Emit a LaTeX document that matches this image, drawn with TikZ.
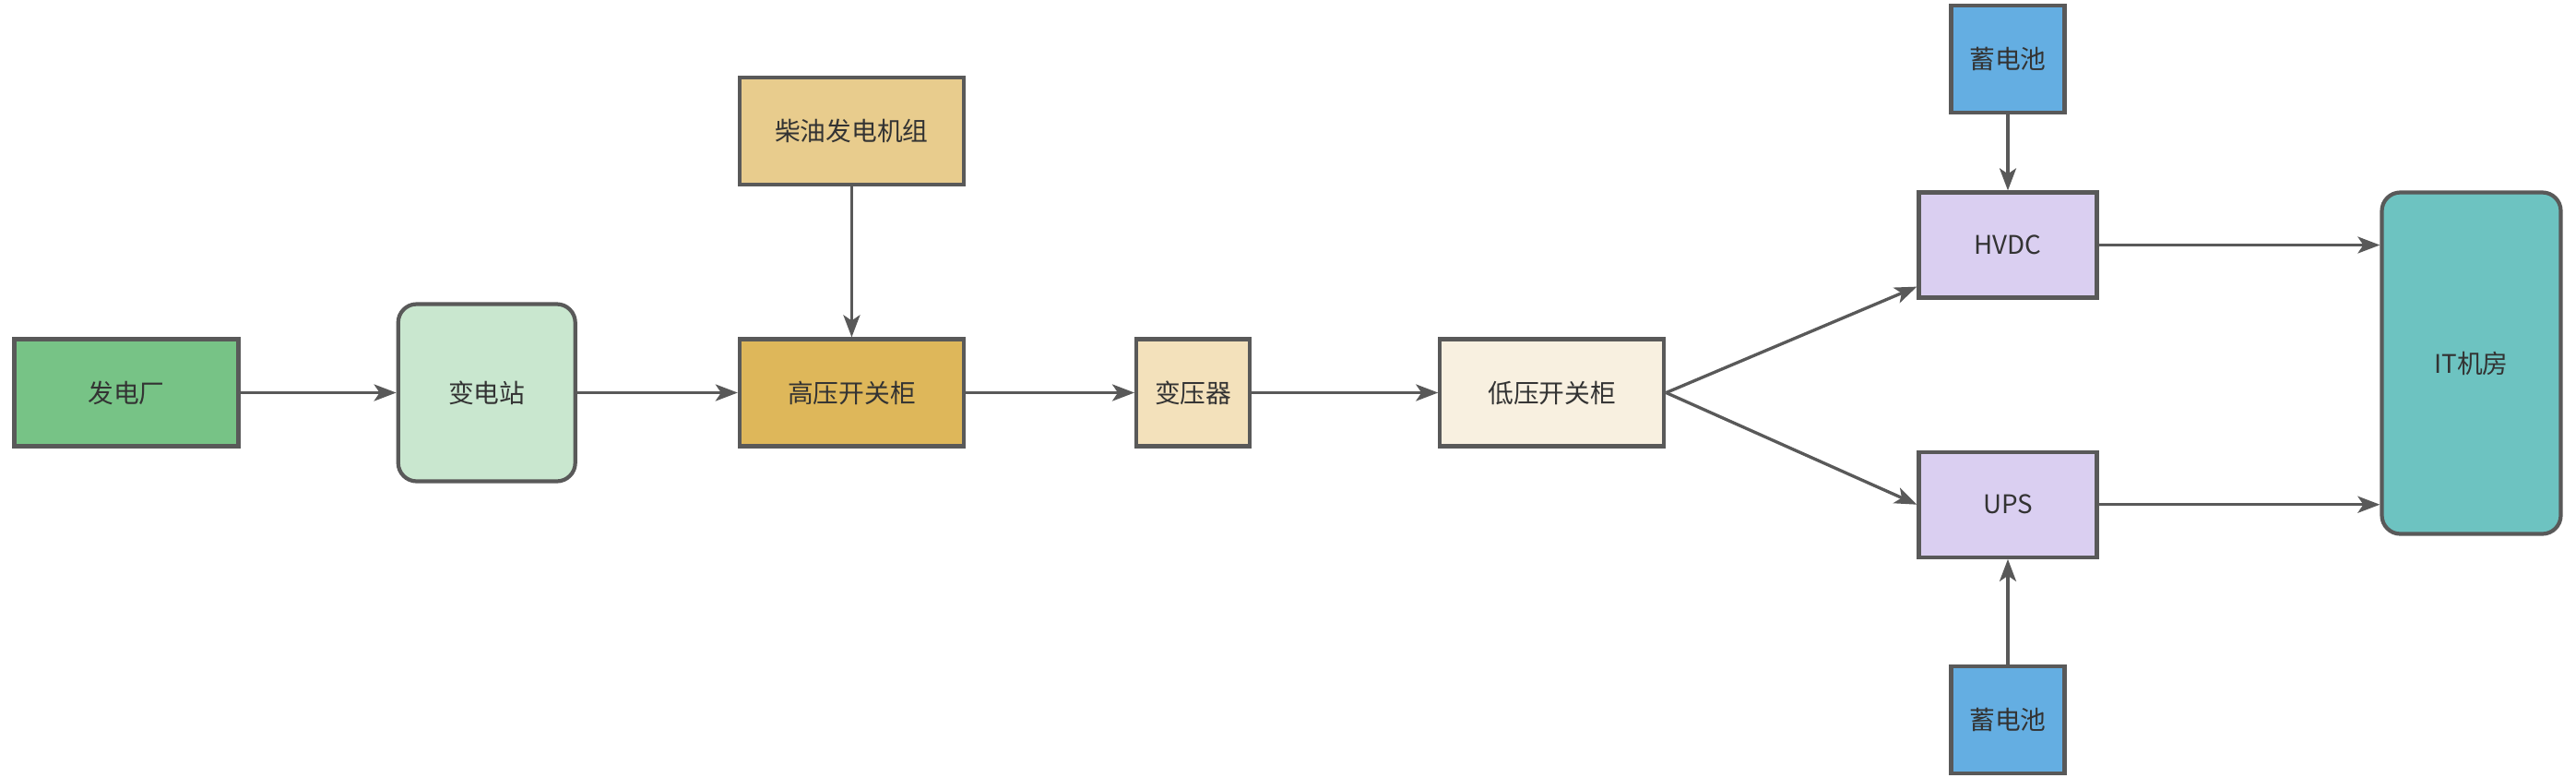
\documentclass[tikz,border=0pt]{standalone}
\usepackage{fontspec}
\setmainfont{Noto Sans CJK SC}
\usetikzlibrary{arrows.meta,positioning,calc}
\definecolor{edge}{HTML}{595959}
\definecolor{ink}{HTML}{333333}
\definecolor{plantc}{HTML}{77C386}
\definecolor{subc}{HTML}{C9E7CF}
\definecolor{dieselc}{HTML}{E8CC8D}
\definecolor{hvc}{HTML}{DEB75A}
\definecolor{transc}{HTML}{F3E1BB}
\definecolor{lvc}{HTML}{F8F0E0}
\definecolor{convc}{HTML}{DACFF1}
\definecolor{batc}{HTML}{64AEE2}
\definecolor{itc}{HTML}{6DC3C1}
\tikzset{
  box/.style={draw=edge, line width=1.2pt, align=center, inner sep=0pt, text=ink,
    font=\fontsize{7.9pt}{9pt}\selectfont},
  wide/.style={box, minimum width=2.43cm, minimum height=1.16cm},
  narrow/.style={box, minimum width=1.23cm, minimum height=1.16cm},
  conv/.style={box, fill=convc, minimum width=1.93cm, minimum height=1.14cm},
  soft/.style={box, rounded corners=0.2cm},
  flow/.style={-{Stealth[length=2.4mm, width=1.8mm, inset=0.6mm]}, draw=edge, line width=0.95pt},
}

\begin{document}
\begin{tikzpicture}[node distance=1.7cm]
    \useasboundingbox (0,0) rectangle (27.93,-8.42);
    \node[wide, fill=plantc] (plant) at (1.37,-4.255) {发电厂};
    \node[soft, fill=subc, minimum width=1.92cm, minimum height=1.92cm, right=1.69cm of plant] (sub) {变电站};
    \node[wide, fill=hvc, right=1.74cm of sub] (hv) {高压开关柜};
    \node[wide, fill=dieselc, above=1.63cm of hv] (diesel) {柴油发电机组};
    \node[narrow, fill=transc, right=1.83cm of hv] (trans) {变压器};
    \node[wide, fill=lvc, right=2.02cm of trans] (lv) {低压开关柜};
    \node[conv] (hvdc) at (21.77,-2.655) {HVDC};
    \node[conv, below=1.63cm of hvdc] (ups) {UPS};
    \node[narrow, fill=batc, above=0.82cm of hvdc] (bat1) {蓄电池};
    \node[narrow, fill=batc, below=1.14cm of ups] (bat2) {蓄电池};
    \node[soft, fill=itc, minimum width=1.94cm, minimum height=3.7cm] (it) at (26.795,-3.935) {IT机房};

    \draw[flow] (plant) -- (sub);
    \draw[flow] (sub) -- (hv);
    \draw[flow] (diesel) -- (hv);
    \draw[flow] (hv) -- (trans);
    \draw[flow] (trans) -- (lv);
    \draw[flow] (lv.east) -- ([yshift=0.14cm]hvdc.south west);
    \draw[flow] (lv.east) -- (ups.west);
    \draw[flow] (bat1) -- (hvdc);
    \draw[flow] (bat2) -- (ups);
    \draw[flow] (hvdc.east) -- (hvdc.east -| it.west);
    \draw[flow] (ups.east) -- (ups.east -| it.west);
  \end{tikzpicture}
\end{document}
